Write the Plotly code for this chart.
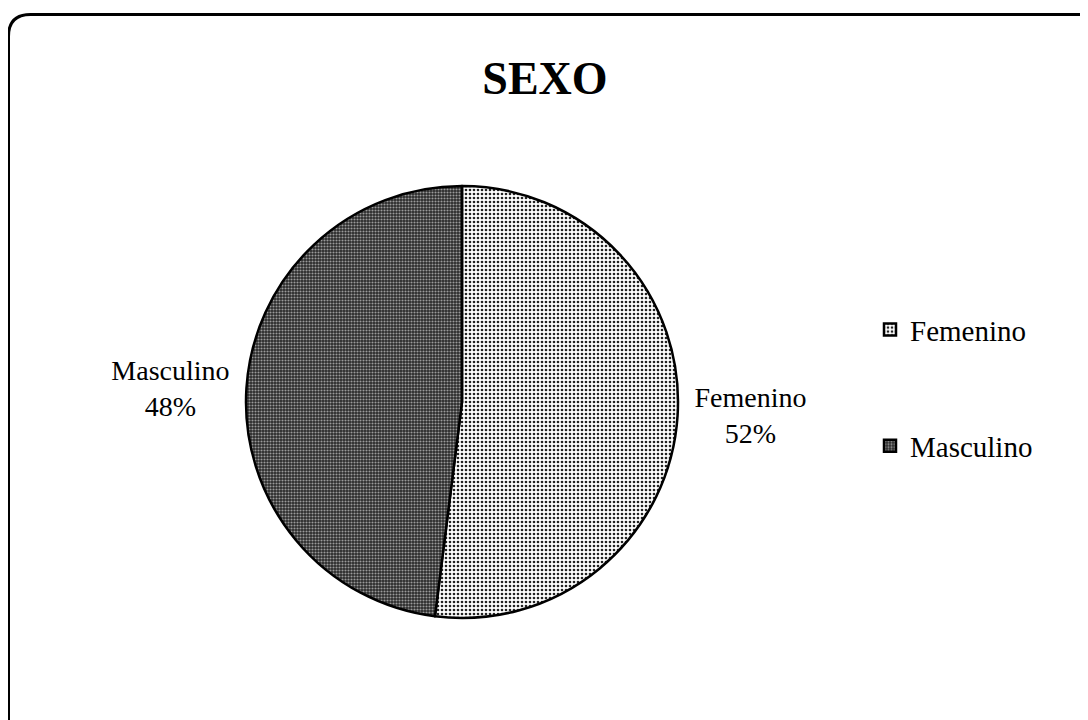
import plotly.graph_objects as go

categories = ["Femenino", "Masculino"]
values = [52, 48]
title_text = "SEXO"

W, H = 1088, 720
FONT = "Liberation Serif"

legend_labels = ["<br>" + c + "<br>" for c in categories]

# page body adds an 8px offset; positions below are in figure pixels
CX, CY, R = 454, 394, 216

fig = go.Figure()
fig.add_trace(go.Pie(
    labels=legend_labels,
    values=values,
    customdata=categories,
    texttemplate="%{customdata}<br>%{percent:.0%}",
    textposition="outside",
    textfont=dict(family=FONT, size=28, color="black"),
    sort=False,
    direction="clockwise",
    rotation=0,
    hoverinfo="skip",
    marker=dict(
        colors=["white", "#333333"],
        line=dict(color="black", width=2.5),
        pattern=dict(
            shape=[".", "."],
            fgcolor=["#222222", "#9a9a9a"],
            bgcolor=["white", "#2a2a2a"],
            size=[4, 3],
            solidity=[0.35, 0.4],
        ),
    ),
    domain=dict(x=[(CX - R) / W, (CX + R) / W],
                y=[1 - (CY + R) / H, 1 - (CY - R) / H]),
))

# rounded frame
x0, y0 = 0.5 / W, 1 - 6.5 / H
x1, y1 = 1.02, -0.02
rx, ry = 22 / W, 22 / H
path = (f"M {x0},{y1} L {x0},{y0 - ry} Q {x0},{y0} {x0 + rx},{y0} "
        f"L {x1},{y0}")
fig.add_shape(type="path", path=path, xref="paper", yref="paper",
              line=dict(color="black", width=3))

fig.update_layout(
    width=W, height=H,
    margin=dict(l=0, r=0, t=0, b=0),
    paper_bgcolor="white",
    plot_bgcolor="white",
    title=dict(text="<b>" + title_text + "</b>", x=537 / W, xanchor="center",
               y=1 - 70 / H, yanchor="middle",
               font=dict(family=FONT, size=46, color="black")),
    showlegend=True,
    legend=dict(x=862 / W, xanchor="left", y=1 - 380 / H, yanchor="middle",
                font=dict(family=FONT, size=29, color="black"),
                valign="middle", itemwidth=30, bgcolor="rgba(0,0,0,0)"),
)

fig.write_html("out.html")
